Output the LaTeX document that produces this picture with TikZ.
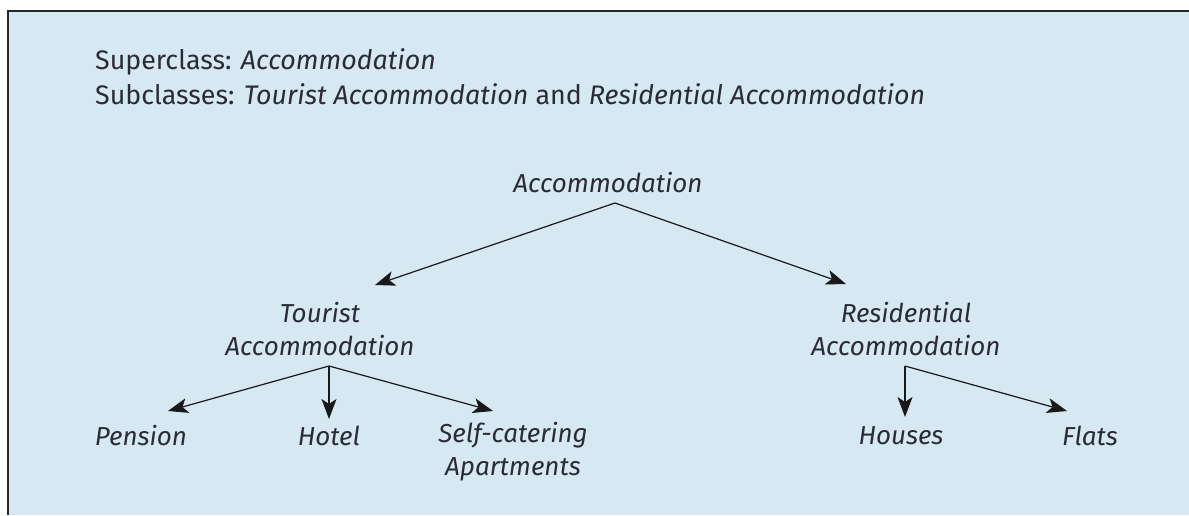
\documentclass[tikz,border=0pt]{standalone}
\usepackage{fontspec}
\setmainfont{Fira Sans}
\usetikzlibrary{arrows.meta}
\definecolor{panel}{HTML}{D6E8F2}
\definecolor{txt}{HTML}{2A2A38}
\tikzset{
  lbl/.style={inner sep=0pt, text=txt, font=\fontsize{26}{33}\selectfont\itshape, align=center},
  head/.style={inner sep=0pt, text=txt, font=\fontsize{26.8}{33}\selectfont, anchor=base west},
  conn/.style={draw=black!90, line width=1.2pt, -{Stealth[length=20pt,width=15pt,inset=5pt]}}
}
\begin{document}
\begin{tikzpicture}[x=1pt,y=-1pt]
\useasboundingbox (0,0) rectangle (1189,515);
\fill[white] (0,0) rectangle (1189,515);
\fill[panel] (8,11) rectangle (1189,515);
\draw[line width=1.6pt, black!85] (8,515) -- (8,11) -- (1189,11);
\node[head] (sup) at (95,69) {Superclass: \textit{Accommodation}};
\node[head] (sub) at (95,104) {Subclasses: \textit{Tourist Accommodation} and \textit{Residential Accommodation}};
\node[lbl] (acc) at (608,183) {Accommodation};
\node[lbl] (tour) at (320,329) {Tourist\\Accommodation};
\node[lbl] (res) at (906,329) {Residential\\Accommodation};
\node[lbl] (pen) at (141,436) {Pension};
\node[lbl] (hot) at (329,436) {Hotel};
\node[lbl] (self) at (513,452) {Self-catering\\Apartments};
\node[lbl] (hou) at (901,436) {Houses};
\node[lbl] (fla) at (1090,436) {Flats};
\coordinate (a0) at (615,203);
\coordinate (t0) at (329,366);
\coordinate (r0) at (905,366);
\coordinate (ta) at (375,285);
\coordinate (ra) at (846,284);
\coordinate (pa) at (168,411);
\coordinate (ha) at (329,419);
\coordinate (sa) at (493,411);
\coordinate (hoa) at (905,417);
\coordinate (fa) at (1067,411);
\draw[conn] (a0) -- (ta);
\draw[conn] (a0) -- (ra);
\draw[conn] (t0) -- (pa);
\draw[conn] (t0) -- (ha);
\draw[conn] (t0) -- (sa);
\draw[conn] (r0) -- (hoa);
\draw[conn] (r0) -- (fa);
\end{tikzpicture}
\end{document}
